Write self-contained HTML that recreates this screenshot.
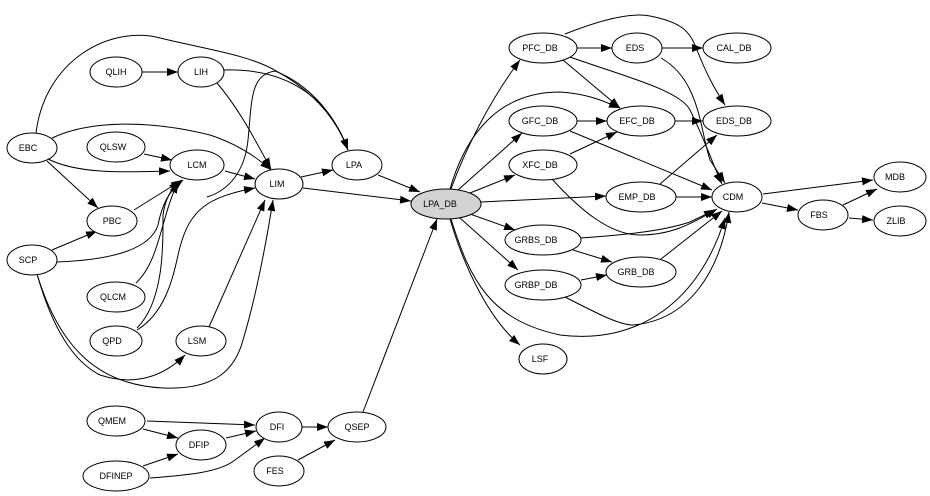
<!DOCTYPE html>
<html><head><meta charset="utf-8"><style>
html,body{margin:0;padding:0;background:#fff;width:930px;height:496px;overflow:hidden}
svg text{font-family:"Liberation Sans",sans-serif;font-size:9px;text-anchor:middle;dominant-baseline:central}
</style></head><body>
<svg width="930" height="496" viewBox="0 0 930 496" xmlns="http://www.w3.org/2000/svg">
<defs><marker id="a" markerUnits="userSpaceOnUse" markerWidth="12" markerHeight="8" refX="11" refY="4" orient="auto"><path d="M0,0 L11,4 L0,8 z" fill="#000"/></marker></defs>
<g fill="none" stroke="#000" stroke-width="1" marker-end="url(#a)">
<path d="M142,72 L178,72"/>
<path d="M217,83 C240,110 255,140 271,169"/>
<path d="M224,70 C290,68 330,100 348,150"/>
<path d="M36,133 C45,60 110,25 160,38 C210,50 250,55 278,72 C310,90 335,115 348,150"/>
<path d="M52,138 C90,120 150,120 210,135 C240,145 260,160 271,170"/>
<path d="M48,159 C80,175 130,172 170,171"/>
<path d="M47,161 L98,208"/>
<path d="M144,154 L172,160"/>
<path d="M225,171 L255,179"/>
<path d="M134,210 L182,180"/>
<path d="M52,250 L97,231"/>
<path d="M57,262 C110,260 150,250 158,225 C162,205 168,192 183,180"/>
<path d="M136,283 C160,260 160,220 178,182"/>
<path d="M137,328 C165,300 163,240 163,215 C165,200 170,190 180,181"/>
<path d="M137,330 C170,310 175,265 180,247 C190,210 207,197 255,188"/>
<path d="M207,197 C230,190 245,170 248,140 C252,100 250,75 275,71 C310,85 335,115 348,150"/>
<path d="M209,327 L265,200"/>
<path d="M37,274 C50,320 70,360 100,375 C130,385 160,380 185,355"/>
<path d="M37,274 C60,350 100,385 163,388 C215,390 235,370 243,340 C255,300 265,250 273,200"/>
<path d="M301,177 L333,170"/>
<path d="M303,188 L411,201"/>
<path d="M378,175 L420,192"/>
<path d="M147,421 L255,425"/>
<path d="M143,429 L178,438"/>
<path d="M226,438 L256,431"/>
<path d="M143,466 L178,454"/>
<path d="M150,478 C190,475 220,472 235,460 L265,438"/>
<path d="M302,427 L328,427"/>
<path d="M298,460 L335,440"/>
<path d="M363,412 L437,219"/>
<path d="M451,189 C465,150 490,100 520,60"/>
<path d="M450,189 C470,120 510,92 560,92 C590,94 605,102 620,108"/>
<path d="M458,190 L522,133"/>
<path d="M470,193 L515,175"/>
<path d="M481,202 L606,196"/>
<path d="M470,214 L515,230"/>
<path d="M460,218 L518,270"/>
<path d="M451,219 C470,280 490,320 560,335 C640,345 700,300 725,218"/>
<path d="M450,219 C465,270 490,320 520,345"/>
<path d="M577,48 L612,48"/>
<path d="M563,60 L620,108"/>
<path d="M570,57 C620,75 680,90 690,110 C705,140 715,170 722,184"/>
<path d="M565,34 C600,20 630,12 650,16 C680,22 690,30 697,50 C705,70 712,85 725,105"/>
<path d="M662,48 L703,48"/>
<path d="M661,58 C700,80 700,130 710,160 L725,183"/>
<path d="M577,121 L607,121"/>
<path d="M570,131 L712,190"/>
<path d="M675,121 L703,121"/>
<path d="M570,154 L617,132"/>
<path d="M552,179 C580,210 610,235 640,235 C670,235 690,225 717,209"/>
<path d="M660,184 L717,135"/>
<path d="M676,197 L712,197"/>
<path d="M581,238 C620,235 660,232 690,222 L715,210"/>
<path d="M573,250 L612,262"/>
<path d="M581,280 L607,275"/>
<path d="M565,297 C600,315 620,325 633,325 C690,320 720,270 729,212"/>
<path d="M661,259 L722,211"/>
<path d="M763,194 L873,180"/>
<path d="M762,203 L798,210"/>
<path d="M843,205 L877,189"/>
<path d="M849,218 L873,220"/>
</g>
<g stroke="#000" stroke-width="1" fill="#fff">
<ellipse cx="116" cy="72" rx="26" ry="15"/>
<ellipse cx="201" cy="72" rx="23" ry="15"/>
<ellipse cx="32" cy="148" rx="25" ry="15"/>
<ellipse cx="116" cy="147" rx="29" ry="15"/>
<ellipse cx="197" cy="165" rx="27" ry="15"/>
<ellipse cx="279" cy="184" rx="24" ry="15"/>
<ellipse cx="357" cy="165" rx="25" ry="15"/>
<ellipse cx="446" cy="204" rx="35" ry="15" fill="#d3d3d3"/>
<ellipse cx="112" cy="221" rx="25" ry="15"/>
<ellipse cx="32" cy="260" rx="25" ry="15"/>
<ellipse cx="116" cy="297" rx="29" ry="15"/>
<ellipse cx="116" cy="341" rx="26" ry="15"/>
<ellipse cx="201" cy="341" rx="25" ry="15"/>
<ellipse cx="116" cy="421" rx="29" ry="15"/>
<ellipse cx="201" cy="445" rx="25" ry="15"/>
<ellipse cx="279" cy="427" rx="23" ry="15"/>
<ellipse cx="357" cy="427" rx="29" ry="15"/>
<ellipse cx="116" cy="476" rx="33" ry="15"/>
<ellipse cx="279" cy="471" rx="25" ry="15"/>
<ellipse cx="543" cy="48" rx="34" ry="15"/>
<ellipse cx="637" cy="48" rx="25" ry="15"/>
<ellipse cx="737" cy="48" rx="34" ry="15"/>
<ellipse cx="543" cy="121" rx="34" ry="15"/>
<ellipse cx="641" cy="121" rx="34" ry="15"/>
<ellipse cx="737" cy="121" rx="34" ry="15"/>
<ellipse cx="543" cy="165" rx="34" ry="15"/>
<ellipse cx="641" cy="197" rx="35" ry="15"/>
<ellipse cx="737" cy="197" rx="25" ry="15"/>
<ellipse cx="900" cy="177" rx="26" ry="15"/>
<ellipse cx="823" cy="215" rx="25" ry="15"/>
<ellipse cx="900" cy="221" rx="26" ry="15"/>
<ellipse cx="543" cy="240" rx="38" ry="15"/>
<ellipse cx="641" cy="272" rx="35" ry="15"/>
<ellipse cx="543" cy="285" rx="38" ry="15"/>
<ellipse cx="543" cy="359" rx="24" ry="15"/>
</g>
<g>
<text x="116" y="72">QLIH</text><text x="201" y="72">LIH</text><text x="28" y="148">EBC</text>
<text x="113" y="147">QLSW</text><text x="197" y="165">LCM</text><text x="277" y="184">LIM</text>
<text x="354" y="165">LPA</text><text x="440" y="204">LPA_DB</text><text x="112" y="221">PBC</text>
<text x="28" y="260">SCP</text><text x="113" y="297">QLCM</text><text x="112" y="341">QPD</text>
<text x="197" y="341">LSM</text><text x="112" y="421">QMEM</text><text x="199" y="445">DFIP</text>
<text x="277" y="427">DFI</text><text x="357" y="427">QSEP</text><text x="116" y="476">DFINEP</text>
<text x="275" y="471">FES</text><text x="540" y="48">PFC_DB</text><text x="635" y="48">EDS</text>
<text x="734" y="48">CAL_DB</text><text x="540" y="121">GFC_DB</text><text x="637" y="121">EFC_DB</text>
<text x="734" y="121">EDS_DB</text><text x="540" y="165">XFC_DB</text><text x="637" y="197">EMP_DB</text>
<text x="733" y="197">CDM</text><text x="895" y="177">MDB</text><text x="819" y="215">FBS</text>
<text x="896" y="221">ZLIB</text><text x="536" y="240">GRBS_DB</text><text x="636" y="272">GRB_DB</text>
<text x="536" y="285">GRBP_DB</text><text x="540" y="359">LSF</text>
</g>
</svg>
</body></html>
